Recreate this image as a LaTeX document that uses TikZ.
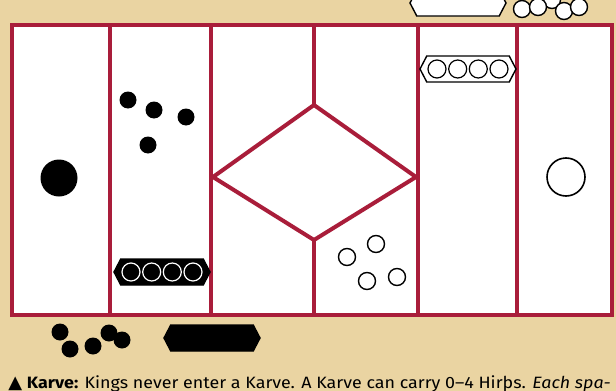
\documentclass[tikz,border=0pt]{standalone}
\usepackage{fontspec}
\setmainfont{Fira Sans}
\newfontfamily\captionfont{Fira Sans}[FakeStretch=1.09]
\newfontfamily\symfont{DejaVu Sans}
\usetikzlibrary{shapes.symbols}
\definecolor{boardred}{HTML}{A91D3A}
\definecolor{boardtan}{HTML}{EAD4A2}
\tikzset{
  cellline/.style={draw=boardred, line width=2pt},
  blackstone/.style={circle, fill=black, inner sep=0pt, minimum size=8.5pt},
  whitestone/.style={circle, draw=black, fill=white, line width=0.7pt, inner sep=0pt, minimum size=8.5pt},
  blackking/.style={circle, fill=black, inner sep=0pt, minimum size=18.5pt},
  whiteking/.style={circle, draw=black, fill=white, line width=0.8pt, inner sep=0pt, minimum size=19pt},
  karve/.style={signal, signal to=west and east, signal pointer angle=125, inner sep=0pt, minimum width=48pt, minimum height=13pt, line width=0.7pt},
  whitekarve/.style={karve, draw=black, fill=white},
  blackkarve/.style={karve, draw=black, fill=black},
  cargo/.style={circle, inner sep=0pt, minimum size=9pt, line width=0.6pt}
}

\begin{document}
\begin{tikzpicture}[x=0.5pt,y=-0.5pt]
  \fill[boardtan] (0,0) rectangle (616,391);
  \useasboundingbox (0,0) rectangle (616,391);
  \fill[white] (11.5,24.5) rectangle (612,315);
  \coordinate (dleft) at (213,177);
  \coordinate (dtop) at (314,105);
  \coordinate (dright) at (416,177);
  \coordinate (dbottom) at (314,240);
  \foreach \x in {110,211,418,517}
    \draw[cellline] (\x,24.5) -- (\x,315);
  \draw[cellline] (314,24.5) -- (dtop);
  \draw[cellline] (dbottom) -- (314,315);
  \draw[cellline, line join=miter] (dleft) -- (dtop) -- (dright) -- (dbottom) -- cycle;
  \draw[cellline] (11.5,24.5) rectangle (612,315);

  \node[blackking] (kingb) at (59,178) {};
  \node[whiteking] (kingw) at (566,177) {};
  \foreach \p [count=\i] in {(128,100),(154,110),(186,117),(148,145)}
    \node[blackstone] (hb\i) at \p {};
  \foreach \p [count=\i] in {(347,257),(376,244),(367,281),(397,277)}
    \node[whitestone] (hw\i) at \p {};
  \foreach \p [count=\i] in {(60,332),(70,349),(93,346),(109,333),(122,340)}
    \node[blackstone] (ob\i) at \p {};
  \foreach \p [count=\i] in {(552,0),(522,9),(538,7),(564,11),(579,7)}
    \node[whitestone] (ow\i) at \p {};

  \node[blackkarve] (karveb) at (162,272) {};
  \foreach \d [count=\i] in {-31,-10.3,10.3,31}
    \node[cargo, fill=black, draw=white] (cb\i) at ([xshift=\d*0.5pt]karveb.center) {};
  \node[whitekarve] (karvew) at (468,69) {};
  \foreach \d [count=\i] in {-31,-10.3,10.3,31}
    \node[cargo, fill=white, draw=black] (cw\i) at ([xshift=\d*0.5pt]karvew.center) {};
  \node[whitekarve] (karvetop) at (458,3) {};
  \node[blackkarve] (karvebot) at (212,338) {};

  \node[anchor=base west, inner sep=0pt, font=\captionfont\fontsize{8.2pt}{9pt}\selectfont] (caption) at (8,388.5)
    {{\symfont\fontsize{9pt}{9pt}\selectfont ▲} \textbf{Karve:} Kings never enter a Karve. A Karve can carry 0–4 Hirþs. \textit{Each spa-}};
\end{tikzpicture}
\end{document}
